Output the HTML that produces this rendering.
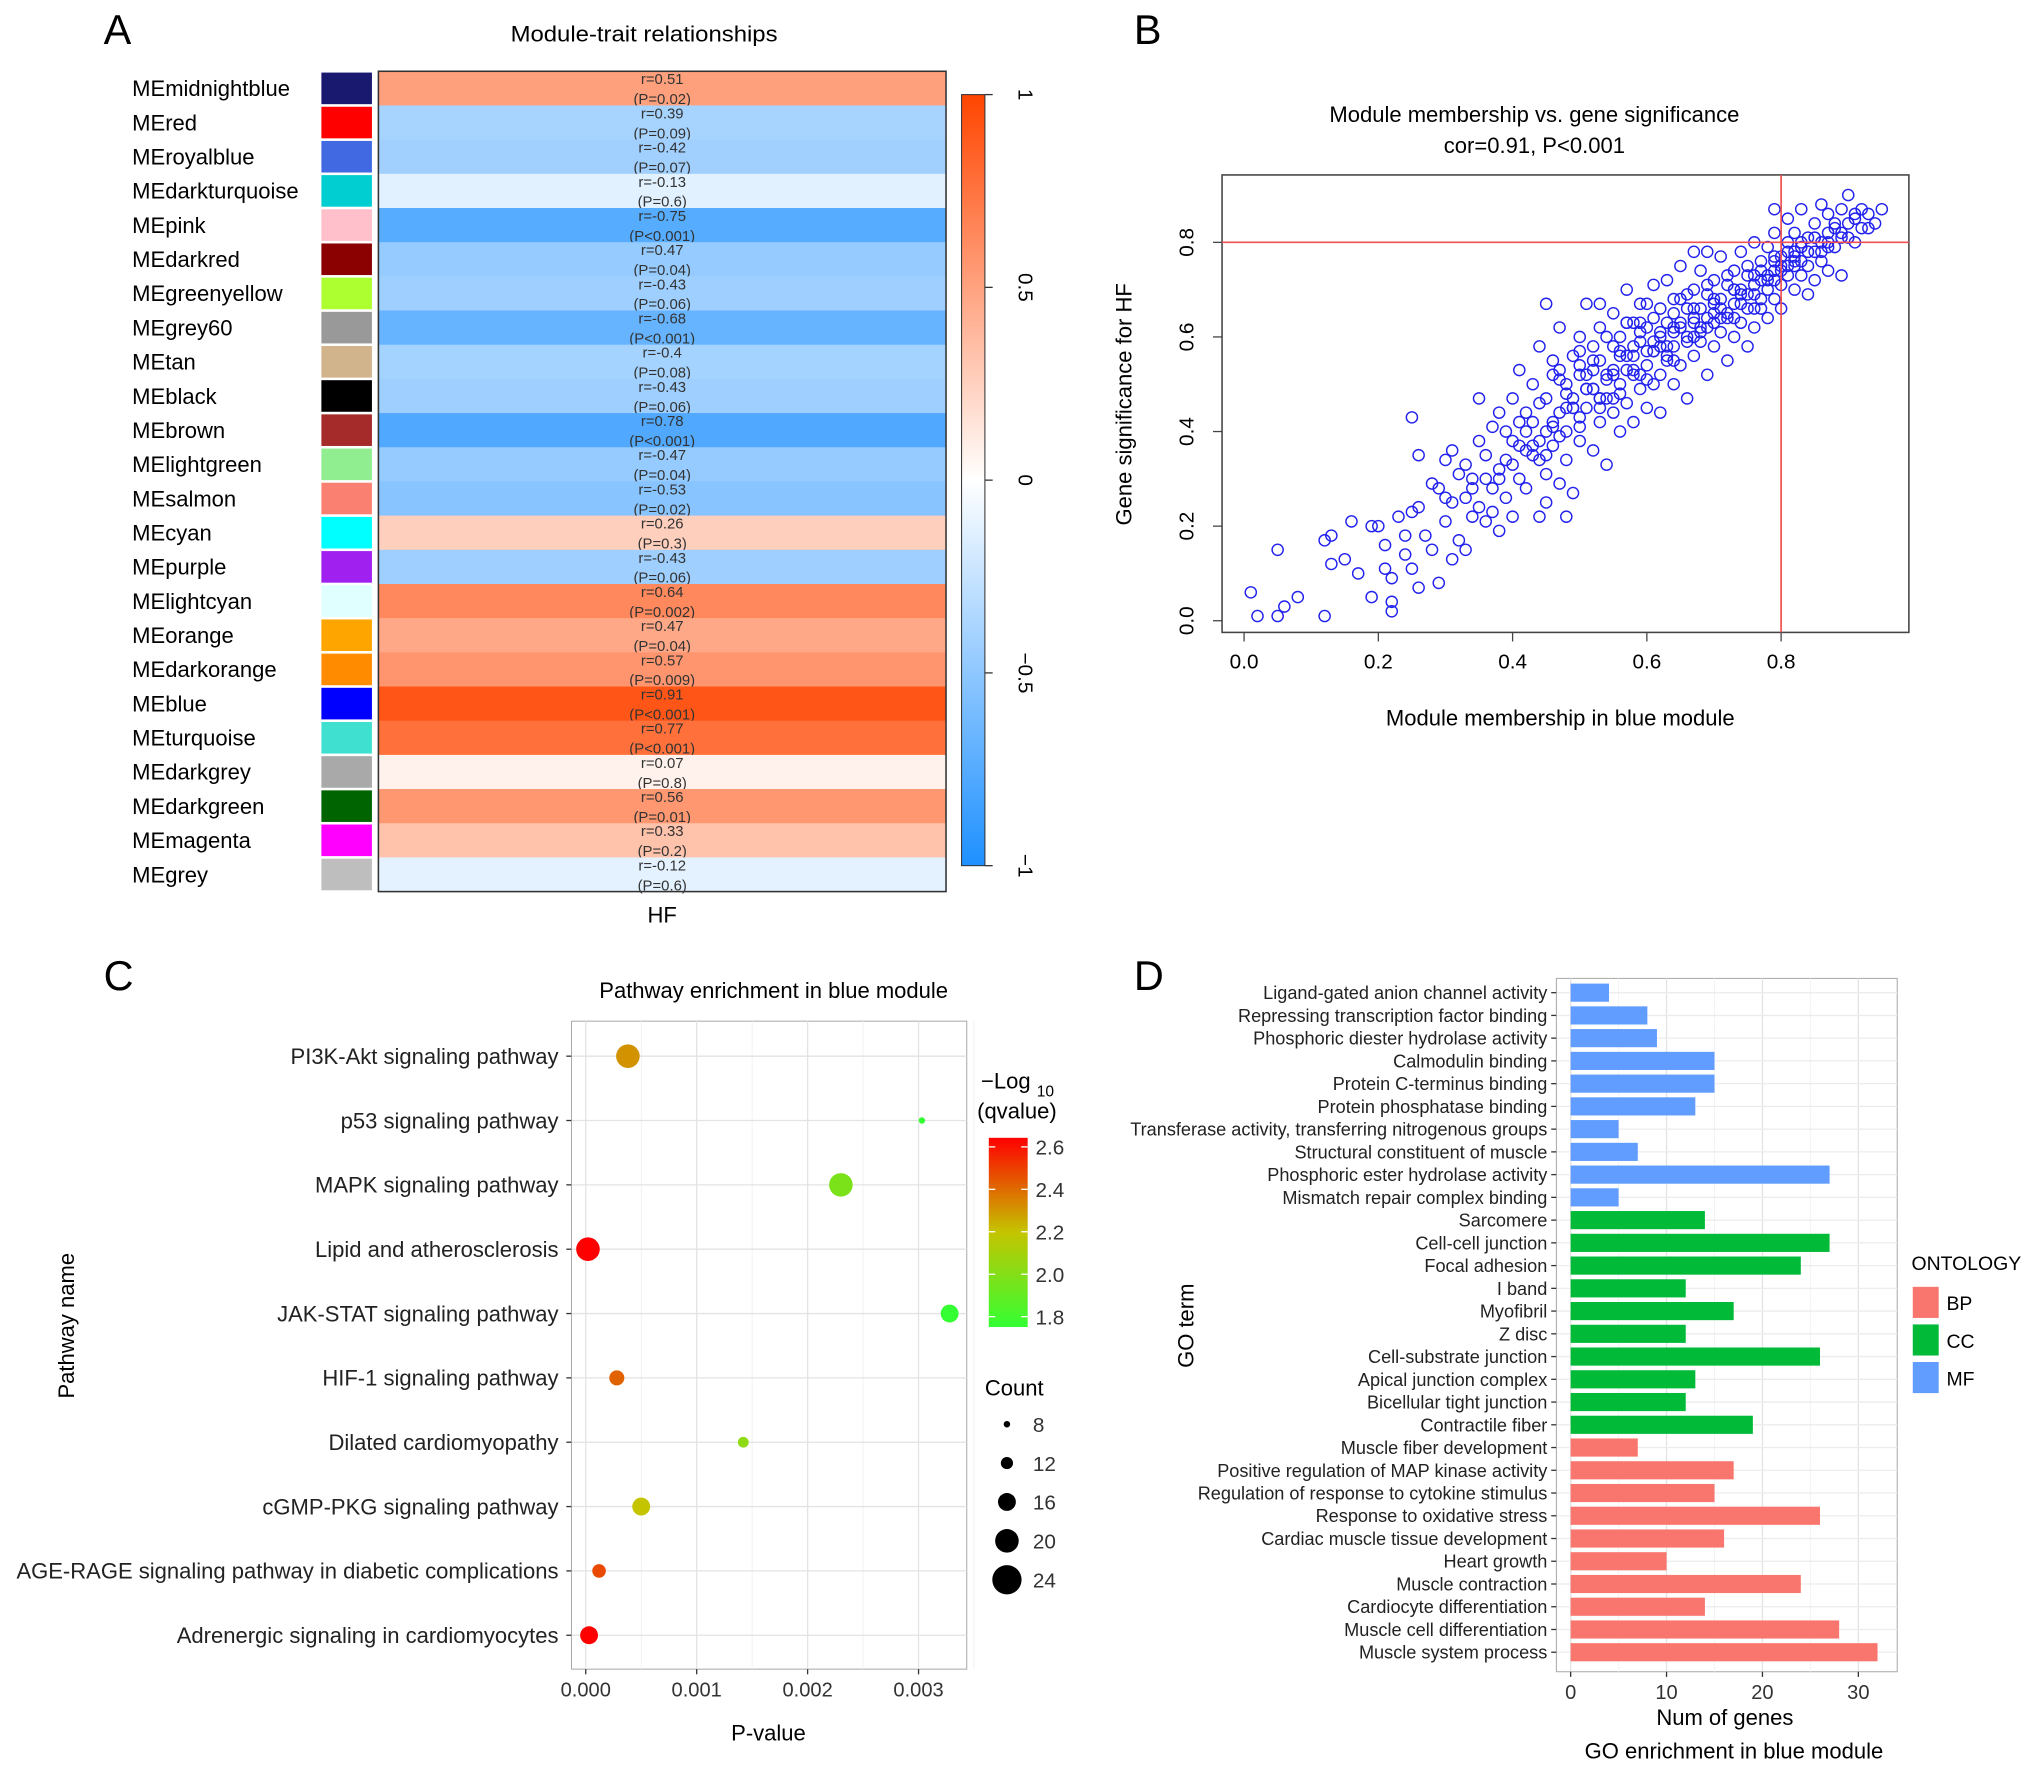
<!DOCTYPE html>
<html><head><meta charset="utf-8">
<style>
html,body{margin:0;padding:0;background:#fff;}
svg{display:block;font-family:"Liberation Sans",Arial,sans-serif;}
</style></head>
<body>
<svg id="fig" width="2032" height="1771" viewBox="0 0 1568 1366.6" xmlns="http://www.w3.org/2000/svg">
<g id="pA"></g>
<g id="pB"></g>
<g id="pC"></g>
<g id="pD"></g>
</svg>
<script>
// ---------- Panel A data ----------
const modNames=["MEmidnightblue","MEred","MEroyalblue","MEdarkturquoise","MEpink","MEdarkred","MEgreenyellow","MEgrey60","MEtan","MEblack","MEbrown","MElightgreen","MEsalmon","MEcyan","MEpurple","MElightcyan","MEorange","MEdarkorange","MEblue","MEturquoise","MEdarkgrey","MEdarkgreen","MEmagenta","MEgrey"];
const modColors=["#191970","#FF0000","#4169E1","#00CED1","#FFC0CB","#8B0000","#ADFF2F","#999999","#D2B48C","#000000","#A52A2A","#90EE90","#FA8072","#00FFFF","#A020F0","#E0FFFF","#FFA500","#FF8C00","#0000FF","#40E0D0","#A9A9A9","#006400","#FF00FF","#BEBEBE"];
const modR=[0.51,-0.39,-0.42,-0.13,-0.75,-0.47,-0.43,-0.68,-0.4,-0.43,-0.78,-0.47,-0.53,0.26,-0.43,0.64,0.47,0.57,0.91,0.77,0.07,0.56,0.33,-0.12];
const modRText=["r=0.51","r=0.39","r=-0.42","r=-0.13","r=-0.75","r=0.47","r=-0.43","r=-0.68","r=-0.4","r=-0.43","r=0.78","r=-0.47","r=-0.53","r=0.26","r=-0.43","r=0.64","r=0.47","r=0.57","r=0.91","r=0.77","r=0.07","r=0.56","r=0.33","r=-0.12"];
const modP=["(P=0.02)","(P=0.09)","(P=0.07)","(P=0.6)","(P<0.001)","(P=0.04)","(P=0.06)","(P<0.001)","(P=0.08)","(P=0.06)","(P<0.001)","(P=0.04)","(P=0.02)","(P=0.3)","(P=0.06)","(P=0.002)","(P=0.04)","(P=0.009)","(P<0.001)","(P<0.001)","(P=0.8)","(P=0.01)","(P=0.2)","(P=0.6)"];
const cbTicks=[1,0.5,0,-0.5,-1];
// ---------- Panel B data ----------
const mmX=[0.01,0.02,0.05,0.06,0.08,0.05,0.12,0.12,0.13,0.13,0.15,0.16,0.17,0.19,0.19,0.20,0.21,0.22,0.22,0.22,0.21,0.23,0.24,0.24,0.25,0.25,0.26,0.26,0.26,0.27,0.28,0.28,0.29,0.29,0.30,0.30,0.31,0.31,0.32,0.32,0.33,0.33,0.34,0.34,0.35,0.35,0.35,0.36,0.36,0.37,0.37,0.38,0.38,0.38,0.39,0.39,0.40,0.40,0.40,0.41,0.41,0.42,0.42,0.42,0.43,0.43,0.44,0.44,0.44,0.45,0.45,0.45,0.46,0.46,0.46,0.47,0.47,0.47,0.48,0.48,0.48,0.49,0.49,0.49,0.50,0.50,0.50,0.51,0.51,0.51,0.52,0.52,0.52,0.53,0.53,0.53,0.54,0.54,0.54,0.55,0.55,0.55,0.56,0.56,0.56,0.57,0.57,0.57,0.58,0.58,0.58,0.59,0.59,0.59,0.60,0.60,0.60,0.61,0.61,0.61,0.62,0.62,0.62,0.63,0.63,0.63,0.64,0.64,0.64,0.65,0.65,0.65,0.66,0.66,0.66,0.67,0.67,0.67,0.68,0.68,0.68,0.69,0.69,0.69,0.70,0.70,0.70,0.71,0.71,0.71,0.72,0.72,0.72,0.73,0.73,0.73,0.74,0.74,0.74,0.75,0.75,0.75,0.76,0.76,0.76,0.77,0.77,0.77,0.78,0.78,0.78,0.79,0.79,0.79,0.80,0.80,0.80,0.81,0.81,0.81,0.82,0.82,0.82,0.83,0.83,0.83,0.84,0.84,0.84,0.85,0.85,0.85,0.86,0.86,0.86,0.87,0.87,0.87,0.88,0.88,0.89,0.89,0.89,0.90,0.90,0.91,0.91,0.92,0.92,0.93,0.94,0.95,0.79,0.67,0.69,0.59,0.55,0.45,0.25,0.53,0.57,0.60,0.64,0.62,0.48,0.50,0.52,0.43,0.41,0.39,0.37,0.33,0.45,0.48,0.36,0.30,
0.44,0.46,0.47,0.49,0.50,0.51,0.52,0.53,0.54,0.55,0.56,0.57,0.58,0.59,0.60,0.61,0.62,0.63,0.64,0.65,0.66,0.67,0.68,0.69,0.70,0.71,0.72,0.73,0.74,0.75,0.76,0.77,0.78,0.79,0.80,0.81,0.82,0.83,0.84,0.85,
0.45,0.47,0.48,0.50,0.51,0.53,0.54,0.56,0.57,0.58,0.60,0.61,0.63,0.64,0.66,0.67,0.69,0.70,0.72,0.73,0.75,0.76,0.78,0.79,0.81,0.82,0.84,0.85,0.87,0.88,
0.40,0.42,0.43,0.46,0.49,0.52,0.55,0.58,0.61,0.64,0.67,0.70,0.73,0.76,0.79,0.82,0.86,0.89,0.91,0.93,
0.38,0.41,0.44,0.47,0.50,0.53,0.56,0.59,0.62,0.65,0.68,0.71,0.74,0.77,0.80,0.83,0.87,0.90,0.31,0.34];
const gsY=[0.06,0.01,0.01,0.03,0.05,0.15,0.01,0.17,0.18,0.12,0.13,0.21,0.10,0.20,0.05,0.20,0.16,0.09,0.02,0.04,0.11,0.22,0.14,0.18,0.11,0.23,0.07,0.24,0.35,0.18,0.29,0.15,0.28,0.08,0.21,0.26,0.36,0.13,0.31,0.17,0.26,0.33,0.22,0.30,0.24,0.38,0.47,0.35,0.21,0.28,0.41,0.32,0.19,0.44,0.26,0.34,0.38,0.22,0.47,0.30,0.53,0.36,0.28,0.44,0.42,0.50,0.34,0.58,0.22,0.40,0.47,0.31,0.52,0.37,0.55,0.44,0.29,0.62,0.40,0.50,0.34,0.47,0.56,0.27,0.43,0.60,0.38,0.52,0.45,0.67,0.49,0.36,0.58,0.42,0.55,0.62,0.47,0.33,0.52,0.58,0.44,0.65,0.50,0.40,0.60,0.53,0.46,0.70,0.56,0.42,0.63,0.49,0.59,0.67,0.54,0.45,0.62,0.57,0.71,0.50,0.60,0.44,0.66,0.55,0.63,0.72,0.58,0.50,0.68,0.62,0.54,0.75,0.60,0.66,0.47,0.63,0.70,0.56,0.66,0.59,0.74,0.62,0.69,0.52,0.65,0.72,0.58,0.68,0.61,0.77,0.64,0.71,0.55,0.67,0.74,0.60,0.70,0.63,0.78,0.66,0.73,0.58,0.69,0.80,0.62,0.72,0.66,0.76,0.70,0.79,0.64,0.74,0.68,0.82,0.71,0.77,0.66,0.80,0.73,0.85,0.76,0.70,0.82,0.79,0.73,0.87,0.81,0.75,0.69,0.78,0.84,0.72,0.80,0.88,0.76,0.82,0.74,0.86,0.79,0.84,0.81,0.87,0.73,0.90,0.84,0.86,0.80,0.87,0.83,0.86,0.84,0.87,0.87,0.78,0.78,0.63,0.53,0.67,0.43,0.67,0.63,0.67,0.62,0.52,0.48,0.52,0.53,0.37,0.42,0.40,0.23,0.15,0.25,0.22,0.30,0.34,
0.46,0.41,0.53,0.45,0.57,0.49,0.55,0.47,0.60,0.52,0.56,0.63,0.58,0.61,0.57,0.64,0.61,0.58,0.65,0.63,0.69,0.64,0.62,0.71,0.68,0.66,0.73,0.70,0.67,0.75,0.71,0.74,0.73,0.77,0.75,0.78,0.77,0.80,0.78,0.81,
0.35,0.39,0.45,0.41,0.49,0.45,0.51,0.48,0.56,0.52,0.51,0.59,0.56,0.61,0.59,0.66,0.64,0.67,0.65,0.70,0.69,0.73,0.72,0.76,0.75,0.78,0.78,0.81,0.79,0.83,
0.33,0.40,0.35,0.42,0.45,0.49,0.47,0.53,0.57,0.55,0.60,0.63,0.64,0.66,0.72,0.75,0.78,0.82,0.85,0.83,
0.30,0.37,0.38,0.51,0.54,0.47,0.57,0.52,0.58,0.68,0.61,0.64,0.69,0.68,0.74,0.76,0.80,0.81,0.25,0.28];
const bTicks=[0.0,0.2,0.4,0.6,0.8];
// ---------- Panel C data ----------
const pathways=["PI3K-Akt signaling pathway","p53 signaling pathway","MAPK signaling pathway","Lipid and atherosclerosis","JAK-STAT signaling pathway","HIF-1 signaling pathway","Dilated cardiomyopathy","cGMP-PKG signaling pathway","AGE-RAGE signaling pathway in diabetic complications","Adrenergic signaling in cardiomyocytes"];
const pathP=[0.00038,0.00303,0.00230,0.00002,0.00328,0.00028,0.00142,0.00050,0.00012,0.00003];
const pathQ=[2.3,1.8,2.0,2.6,1.8,2.4,2.05,2.2,2.45,2.6];
const pathCount=[20,8,20,20,16,14,11,16,13,16];
const cTicks=[0,0.001,0.002,0.003];
const cTickLabels=["0.000","0.001","0.002","0.003"];
const qTicks=[2.6,2.4,2.2,2.0,1.8];
const countTicks=[8,12,16,20,24];
// ---------- Panel D data ----------
const goTerms=["Ligand-gated anion channel activity","Repressing transcription factor binding","Phosphoric diester hydrolase activity","Calmodulin binding","Protein C-terminus binding","Protein phosphatase binding","Transferase activity, transferring nitrogenous groups","Structural constituent of muscle","Phosphoric ester hydrolase activity","Mismatch repair complex binding","Sarcomere","Cell-cell junction","Focal adhesion","I band","Myofibril","Z disc","Cell-substrate junction","Apical junction complex","Bicellular tight junction","Contractile fiber","Muscle fiber development","Positive regulation of MAP kinase activity","Regulation of response to cytokine stimulus","Response to oxidative stress","Cardiac muscle tissue development","Heart growth","Muscle contraction","Cardiocyte differentiation","Muscle cell differentiation","Muscle system process"];
const goCounts=[4,8,9,15,15,13,5,7,27,5,14,27,24,12,17,12,26,13,12,19,7,17,15,26,16,10,24,14,28,32];
const goOnt=["MF","MF","MF","MF","MF","MF","MF","MF","MF","MF","CC","CC","CC","CC","CC","CC","CC","CC","CC","CC","BP","BP","BP","BP","BP","BP","BP","BP","BP","BP"];
const ontNames=["BP","CC","MF"];
const dTicks=[0,10,20,30];

const NS="http://www.w3.org/2000/svg";
function mk(parent,tag,attrs,text){const e=document.createElementNS(NS,tag);for(const k in attrs)e.setAttribute(k,attrs[k]);if(text!==undefined)e.textContent=text;parent.appendChild(e);return e;}

// ===== Panel A =====
(function(){
const g=document.getElementById('pA');
let t=mk(g,'text',{x:80,y:34,'font-size':32},'A');


t=mk(g,'text',{x:497,y:32,'font-size':17,'text-anchor':'middle','textLength':206,'lengthAdjust':'spacingAndGlyphs'},'Module-trait relationships');


const x0=292,x1=730,y0=55,y1=688,n=modNames.length,rh=(y1-y0)/n;
function col(r){if(r>=0){return `rgb(255,${Math.round(255-r*186)},${Math.round(255-r*255)})`;}const a=-r;return `rgb(${Math.round(255-a*225)},${Math.round(255-a*111)},255)`;}
for(let i=0;i<n;i++){
 const y=y0+i*rh;
 let c=mk(g,'rect',{x:x0,y:y,width:x1-x0,height:rh+0.5,fill:col(modR[i])});
 
 
 let s=mk(g,'rect',{x:248,y:y+1,width:39,height:rh-2,fill:modColors[i]});
 
 
 let l=mk(g,'text',{x:102,y:y+rh/2+6,'font-size':17},modNames[i]);
 
 
 let a=mk(g,'text',{x:511,y:y+10,'font-size':11.5,'text-anchor':'middle',fill:'#333'},modRText[i]);
 
 
 let b=mk(g,'text',{x:511,y:y+rh-1,'font-size':11.5,'text-anchor':'middle',fill:'#333'},modP[i]);
 
 
}
let fr=mk(g,'rect',{x:x0,y:y0,width:x1-x0,height:y1-y0,fill:'none',stroke:'#333','stroke-width':1.2});


t=mk(g,'text',{x:511,y:712,'font-size':17,'text-anchor':'middle'},'HF');


const cy0=73,cy1=668,cx=742,cw=18;
const defs=mk(g,'defs',{});
const lg=mk(defs,'linearGradient',{id:'cbg',x1:0,y1:0,x2:0,y2:1});
[[0,col(1)],[0.5,'#fff'],[1,col(-1)]].forEach(s=>mk(lg,'stop',{offset:s[0],'stop-color':s[1]}));
let cb=mk(g,'rect',{x:cx,y:cy0,width:cw,height:cy1-cy0,fill:'url(#cbg)',stroke:'#333','stroke-width':0.8});


cbTicks.forEach(v=>{const y=cy0+(1-v)/2*(cy1-cy0);
 mk(g,'line',{x1:cx+cw,x2:cx+cw+6,y1:y,y2:y,stroke:'#333'});
 let tl=mk(g,'text',{x:0,y:0,'font-size':16,'text-anchor':'middle',transform:`translate(${cx+cw+26},${y}) rotate(90)`},v===0?'0':(v<0?'\u2212'+Math.abs(v):String(v)));
 
 });
})();

// ===== Panel B =====
(function(){
const g=document.getElementById('pB');
let t=mk(g,'text',{x:875,y:34,'font-size':32},'B');


t=mk(g,'text',{x:1184,y:94,'font-size':17,'text-anchor':'middle'},'Module membership vs. gene significance');


t=mk(g,'text',{x:1184,y:118,'font-size':17,'text-anchor':'middle'},'cor=0.91, P<0.001');


const X=v=>960+v*518, Y=v=>479-v*365;
const L=943,R=1473,T=135,B=488;
let fr=mk(g,'rect',{x:L,y:T,width:R-L,height:B-T,fill:'none',stroke:'#444','stroke-width':1.2});


bTicks.forEach(v=>{
 mk(g,'line',{x1:X(v),x2:X(v),y1:B,y2:B+7,stroke:'#444'});
 let a=mk(g,'text',{x:X(v),y:B+28,'font-size':16,'text-anchor':'middle'},v.toFixed(1));
 
 
 mk(g,'line',{x1:L-7,x2:L,y1:Y(v),y2:Y(v),stroke:'#444'});
 let b=mk(g,'text',{x:0,y:0,'font-size':16,'text-anchor':'middle',transform:`translate(${L-22},${Y(v)}) rotate(-90)`},v.toFixed(1));
 
 
});
for(let i=0;i<mmX.length;i++){
 let c=mk(g,'circle',{cx:X(mmX[i]),cy:Y(gsY[i]),r:4.3,fill:'none',stroke:'#2222EE','stroke-width':1.1});
 
 
}
let h=mk(g,'line',{x1:L,x2:R,y1:Y(0.8),y2:Y(0.8),stroke:'#F05050','stroke-width':1.3});


let v=mk(g,'line',{x1:X(0.8),x2:X(0.8),y1:T,y2:B,stroke:'#F05050','stroke-width':1.3});


t=mk(g,'text',{x:1204,y:560,'font-size':17,'text-anchor':'middle'},'Module membership in blue module');


t=mk(g,'text',{x:0,y:0,'font-size':17,'text-anchor':'middle',transform:'translate(873,312) rotate(-90)'},'Gene significance for HF');


})();

// ===== Panel C =====
(function(){
const g=document.getElementById('pC');
let t=mk(g,'text',{x:80,y:764,'font-size':32},'C');


t=mk(g,'text',{x:597,y:770,'font-size':17,'text-anchor':'middle'},'Pathway enrichment in blue module');


const L=441,R=746,T=788,B=1288;
const X=v=>452+v/0.001*85.6;
const rowY=i=>815+i*49.65;
let bg=mk(g,'rect',{x:L,y:T,width:R-L,height:B-T,fill:'#fff',stroke:'#aaa','stroke-width':0.8});


[0.0005,0.0015,0.0025,0.0035].forEach(v=>mk(g,'line',{x1:X(v),x2:X(v),y1:T,y2:B,stroke:'#f0f0f0','stroke-width':0.7}));
cTicks.forEach(v=>mk(g,'line',{x1:X(v),x2:X(v),y1:T,y2:B,stroke:'#e3e3e3','stroke-width':1}));
pathways.forEach((p,i)=>mk(g,'line',{x1:L,x2:R,y1:rowY(i),y2:rowY(i),stroke:'#e3e3e3','stroke-width':1}));
cTicks.forEach((v,i)=>{mk(g,'line',{x1:X(v),x2:X(v),y1:B,y2:B+4,stroke:'#333'});
 let a=mk(g,'text',{x:X(v),y:B+21,'font-size':15.5,'text-anchor':'middle',fill:'#333'},cTickLabels[i]);
 
 });
function qcol(q){const f=Math.max(0,Math.min(1,(q-1.8)/0.8));
 const stops=[[0,[51,255,51]],[0.5,[196,196,0]],[1,[255,0,0]]];
 let a=stops[0],b=stops[1];if(f>0.5){a=stops[1];b=stops[2];}
 const u=(f-a[0])/(b[0]-a[0]);
 return `rgb(${a[1].map((c,k)=>Math.round(c+(b[1][k]-c)*u)).join(',')})`;}
const rad=c=>2.5+(c-8)/16*8.8;
pathways.forEach((p,i)=>{
 mk(g,'line',{x1:L-4,x2:L,y1:rowY(i),y2:rowY(i),stroke:'#333'});
 let l=mk(g,'text',{x:L-10,y:rowY(i)+6,'font-size':17,'text-anchor':'end',fill:'#222'},p);
 
 
 let c=mk(g,'circle',{cx:X(pathP[i]),cy:rowY(i),r:rad(pathCount[i]),fill:qcol(pathQ[i])});
 
 
});
t=mk(g,'text',{x:593,y:1343,'font-size':17,'text-anchor':'middle'},'P-value');


t=mk(g,'text',{x:0,y:0,'font-size':17,'text-anchor':'middle',transform:'translate(57,1023) rotate(-90)'},'Pathway name');


t=mk(g,'text',{x:757,y:840,'font-size':17},'\u2212Log');


mk(g,'text',{x:800,y:846,'font-size':12},'10');
mk(g,'text',{x:754,y:863,'font-size':17},'(qvalue)');
const defs=mk(g,'defs',{});
const lg=mk(defs,'linearGradient',{id:'qg',x1:0,y1:0,x2:0,y2:1});
[[0,qcol(2.62)],[0.5,qcol(2.2)],[1,qcol(1.78)]].forEach(s=>mk(lg,'stop',{offset:s[0],'stop-color':s[1]}));
let gb=mk(g,'rect',{x:763,y:878,width:30,height:146,fill:'url(#qg)'});


const QY=q=>885+(2.6-q)/0.8*131;
qTicks.forEach(q=>{mk(g,'line',{x1:763,x2:768,y1:QY(q),y2:QY(q),stroke:'#fff'});mk(g,'line',{x1:788,x2:793,y1:QY(q),y2:QY(q),stroke:'#fff'});
 let a=mk(g,'text',{x:799,y:QY(q)+6,'font-size':16,fill:'#333'},q.toFixed(1));
 
 });
t=mk(g,'text',{x:760,y:1077,'font-size':17},'Count');


countTicks.forEach((c,i)=>{const y=1099+i*30;
 let d=mk(g,'circle',{cx:777,cy:y,r:rad(c),fill:'#000'});
 
 
 let a=mk(g,'text',{x:797,y:y+6,'font-size':16,fill:'#333'},String(c));
 
 });
})();

// ===== Panel D =====
(function(){
const g=document.getElementById('pD');
let t=mk(g,'text',{x:875,y:764,'font-size':32},'D');


const L=1201,R=1464,T=755,B=1290;
const X=v=>1212+v*7.4;
const rowY=i=>766+i*17.55;
const ontCol={BP:'#F8766D',CC:'#00BA38',MF:'#619CFF'};
let bg=mk(g,'rect',{x:L,y:T,width:R-L,height:B-T,fill:'#fff',stroke:'#aaa','stroke-width':0.8});


[5,15,25].forEach(v=>mk(g,'line',{x1:X(v),x2:X(v),y1:T,y2:B,stroke:'#f2f2f2','stroke-width':0.7}));
dTicks.forEach(v=>mk(g,'line',{x1:X(v),x2:X(v),y1:T,y2:B,stroke:'#e3e3e3','stroke-width':1}));
goTerms.forEach((term,i)=>{
 mk(g,'line',{x1:L,x2:R,y1:rowY(i),y2:rowY(i),stroke:'#ececec','stroke-width':1});
});
goTerms.forEach((term,i)=>{
 let b=mk(g,'rect',{x:X(0),y:rowY(i)-7,width:X(goCounts[i])-X(0),height:14,fill:ontCol[goOnt[i]]});
 
 
 mk(g,'line',{x1:L-4,x2:L,y1:rowY(i),y2:rowY(i),stroke:'#333'});
 let l=mk(g,'text',{x:L-7,y:rowY(i)+5,'font-size':14,'text-anchor':'end',fill:'#222'},term);
 
 
});
dTicks.forEach(v=>{mk(g,'line',{x1:X(v),x2:X(v),y1:B,y2:B+4,stroke:'#333'});
 let a=mk(g,'text',{x:X(v),y:B+21,'font-size':15.5,'text-anchor':'middle',fill:'#333'},String(v));
 
 });
t=mk(g,'text',{x:1331,y:1331,'font-size':17,'text-anchor':'middle'},'Num of genes');


t=mk(g,'text',{x:1338,y:1357,'font-size':17,'text-anchor':'middle'},'GO enrichment in blue module');


t=mk(g,'text',{x:0,y:0,'font-size':17,'text-anchor':'middle',transform:'translate(921,1023) rotate(-90)'},'GO term');


t=mk(g,'text',{x:1475,y:980,'font-size':15},'ONTOLOGY');


ontNames.forEach((o,i)=>{const y=993+i*29;
 let k=mk(g,'rect',{x:1476,y:y,width:20,height:24,fill:ontCol[o]});
 
 
 let a=mk(g,'text',{x:1502,y:y+18,'font-size':15},o);
 
 });
})();
</script>
</body></html>
